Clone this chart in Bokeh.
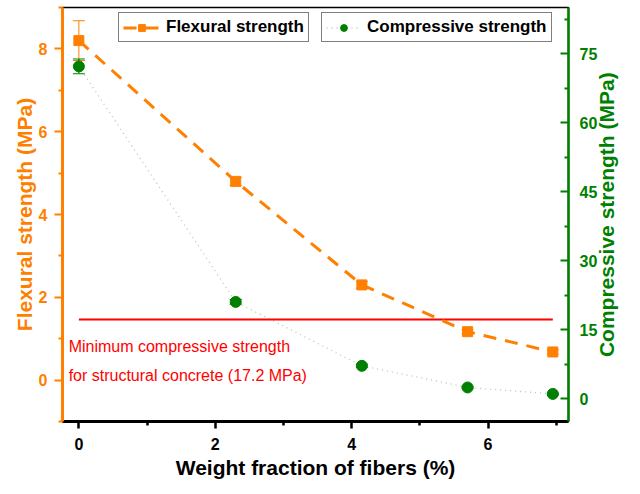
import math
from bokeh.plotting import figure
from bokeh.models import (Range1d, LinearAxis, FixedTicker, Whisker, TeeHead,
                          ColumnDataSource, Legend, LegendItem, Label)
from bokeh.embed import file_html
from bokeh.resources import INLINE

# ---- data ----
fiber = [0.0, 2.3, 4.15, 5.7, 6.95]
flexural = [8.2, 4.8, 2.3, 1.17, 0.68]
flexural_err = [0.48, 0.1, 0.08, 0.05, 0.05]
compressive = [72.2, 21.0, 7.1, 2.4, 1.0]
compressive_err = [1.6, 0.5, 0.3, 0.2, 0.2]
min_compressive = 17.2

x_ticks = [0, 2, 4, 6]
x_minor = [1, 3, 5, 7]
left_ticks = [0, 2, 4, 6, 8]
left_minor = [-1, 1, 3, 5, 7, 9]
right_ticks = [0, 15, 30, 45, 60, 75]
right_minor = [-7.5, 7.5, 22.5, 37.5, 52.5, 67.5, 82.5]

ORANGE = "#FF8000"
GREEN = "#008000"
RED = "#FF0000"
FONT = "Liberation Sans"

p = figure(width=632, height=484, x_range=Range1d(-0.24, 7.18), y_range=Range1d(-1, 9),
           output_backend="svg", toolbar_location=None,
           min_border_left=62, min_border_right=62, min_border_top=7, min_border_bottom=63)
p.extra_y_ranges = {"right": Range1d(-5, 85)}
p.grid.visible = False
p.outline_line_color = "black"
p.outline_line_width = 1.5
p.background_fill_color = "white"

# bottom axis
xa = p.xaxis[0]
xa.ticker = FixedTicker(ticks=x_ticks, minor_ticks=x_minor)
xa.axis_label = "Weight fraction of fibers (%)"
xa.axis_label_text_font = FONT
xa.axis_label_text_font_style = "bold"
xa.axis_label_text_font_size = "21px"
xa.axis_label_text_color = "black"
xa.axis_label_standoff = 3
xa.major_label_text_font = FONT
xa.major_label_text_font_style = "bold"
xa.major_label_text_font_size = "16px"
xa.major_label_text_color = "black"
xa.major_label_standoff = 9
xa.axis_line_color = "black"
xa.axis_line_width = 3
xa.major_tick_line_color = "black"
xa.major_tick_line_width = 2.5
xa.major_tick_out = 7
xa.major_tick_in = 0
xa.minor_tick_line_color = "black"
xa.minor_tick_line_width = 2.5
xa.minor_tick_out = 4
xa.minor_tick_in = 0

# left axis
ya = p.yaxis[0]
ya.ticker = FixedTicker(ticks=left_ticks, minor_ticks=left_minor)
ya.axis_label = "Flexural strength (MPa)"
ya.axis_label_text_font = FONT
ya.axis_label_text_font_style = "bold"
ya.axis_label_text_font_size = "21px"
ya.axis_label_text_color = ORANGE
ya.axis_label_standoff = 0
ya.major_label_text_font = FONT
ya.major_label_text_font_style = "bold"
ya.major_label_text_font_size = "16px"
ya.major_label_text_color = ORANGE
ya.major_label_standoff = 7
ya.axis_line_color = ORANGE
ya.axis_line_width = 3
ya.major_tick_line_color = ORANGE
ya.major_tick_line_width = 2
ya.major_tick_out = 8
ya.major_tick_in = 0
ya.minor_tick_line_color = ORANGE
ya.minor_tick_line_width = 2
ya.minor_tick_out = 4
ya.minor_tick_in = 0

# right axis: ticks and numbers
ra = LinearAxis(y_range_name="right")
ra.ticker = FixedTicker(ticks=right_ticks, minor_ticks=right_minor)
ra.major_label_text_font = FONT
ra.major_label_text_font_style = "bold"
ra.major_label_text_font_size = "16px"
ra.major_label_text_color = GREEN
ra.major_label_standoff = 11
ra.axis_line_color = GREEN
ra.axis_line_width = 2.5
ra.major_tick_line_color = GREEN
ra.major_tick_line_width = 2
ra.major_tick_in = 8
ra.major_tick_out = 0
ra.minor_tick_line_color = GREEN
ra.minor_tick_line_width = 2
ra.minor_tick_in = 4
ra.minor_tick_out = 0
p.add_layout(ra, "right")

# right axis title, reading bottom-to-top: a single rotated tick label on a bare axis
right_title = "Compressive strength (MPa)"
title_start = 9
rt = LinearAxis(y_range_name="right")
rt.ticker = FixedTicker(ticks=[title_start], minor_ticks=[])
rt.major_label_overrides = {title_start: right_title}
rt.major_label_orientation = math.pi / 2
rt.major_label_text_font = FONT
rt.major_label_text_font_style = "bold"
rt.major_label_text_font_size = "21px"
rt.major_label_text_color = GREEN
rt.major_label_standoff = 6
rt.axis_line_color = None
rt.major_tick_line_color = None
rt.minor_tick_line_color = None
rt.major_tick_in = 0
rt.major_tick_out = 0
p.add_layout(rt, "right")

# sources
fsrc = ColumnDataSource(dict(x=fiber, y=flexural,
                             upper=[v + e for v, e in zip(flexural, flexural_err)],
                             lower=[v - e for v, e in zip(flexural, flexural_err)]))
csrc = ColumnDataSource(dict(x=fiber, y=compressive,
                             upper=[v + e for v, e in zip(compressive, compressive_err)],
                             lower=[v - e for v, e in zip(compressive, compressive_err)]))

# minimum line
p.line(x=[fiber[0], fiber[-1]], y=[min_compressive, min_compressive],
       y_range_name="right", line_color=RED, line_width=2)

# flexural
fl = p.line("x", "y", source=fsrc, line_color=ORANGE, line_width=3, line_dash="13 9")
fw = Whisker(base="x", upper="upper", lower="lower", source=fsrc,
             line_color=ORANGE, line_width=1,
             upper_head=TeeHead(size=12, line_color=ORANGE, line_width=1),
             lower_head=TeeHead(size=12, line_color=ORANGE, line_width=1))
p.add_layout(fw)
fs = p.scatter("x", "y", source=fsrc, marker="square", size=10,
               fill_color=ORANGE, line_color=ORANGE)

# compressive
cl = p.line("x", "y", source=csrc, y_range_name="right", line_color=GREEN,
            line_alpha=0.35, line_width=1.3, line_dash="1 4")
cw = Whisker(base="x", upper="upper", lower="lower", source=csrc, y_range_name="right",
             line_color=GREEN, line_width=1.2,
             upper_head=TeeHead(size=12, line_color=GREEN, line_width=1.2),
             lower_head=TeeHead(size=12, line_color=GREEN, line_width=1.2))
p.add_layout(cw)
cs = p.scatter("x", "y", source=csrc, y_range_name="right", marker="circle", size=11,
               fill_color=GREEN, line_color=GREEN)

# annotation text
p.add_layout(Label(x=-0.15, y=0.82, text="Minimum compressive strength",
                   text_font=FONT, text_font_size="16px", text_color=RED,
                   text_baseline="middle", text_align="left"))
p.add_layout(Label(x=-0.15, y=0.12, text="for structural concrete (17.2 MPa)",
                   text_font=FONT, text_font_size="16px", text_color=RED,
                   text_baseline="middle", text_align="left"))

# legends
def make_legend(label, renderers, loc, gw):
    return Legend(items=[LegendItem(label=label, renderers=renderers)],
                  location=loc, orientation="vertical", margin=0, padding=4,
                  border_line_color="black", border_line_width=1,
                  background_fill_color="white", background_fill_alpha=1,
                  label_text_font=FONT, label_text_font_style="bold",
                  label_text_font_size="17px", label_text_color="black",
                  glyph_width=gw, glyph_height=17, label_height=17, label_standoff=6,
                  spacing=0)

p.add_layout(make_legend("Flexural strength", [fl, fs], (56, 379), 37), "center")
p.add_layout(make_legend("Compressive strength", [cl, cs], (259, 379), 35), "center")

open("out.html", "w").write(file_html(p, INLINE))
